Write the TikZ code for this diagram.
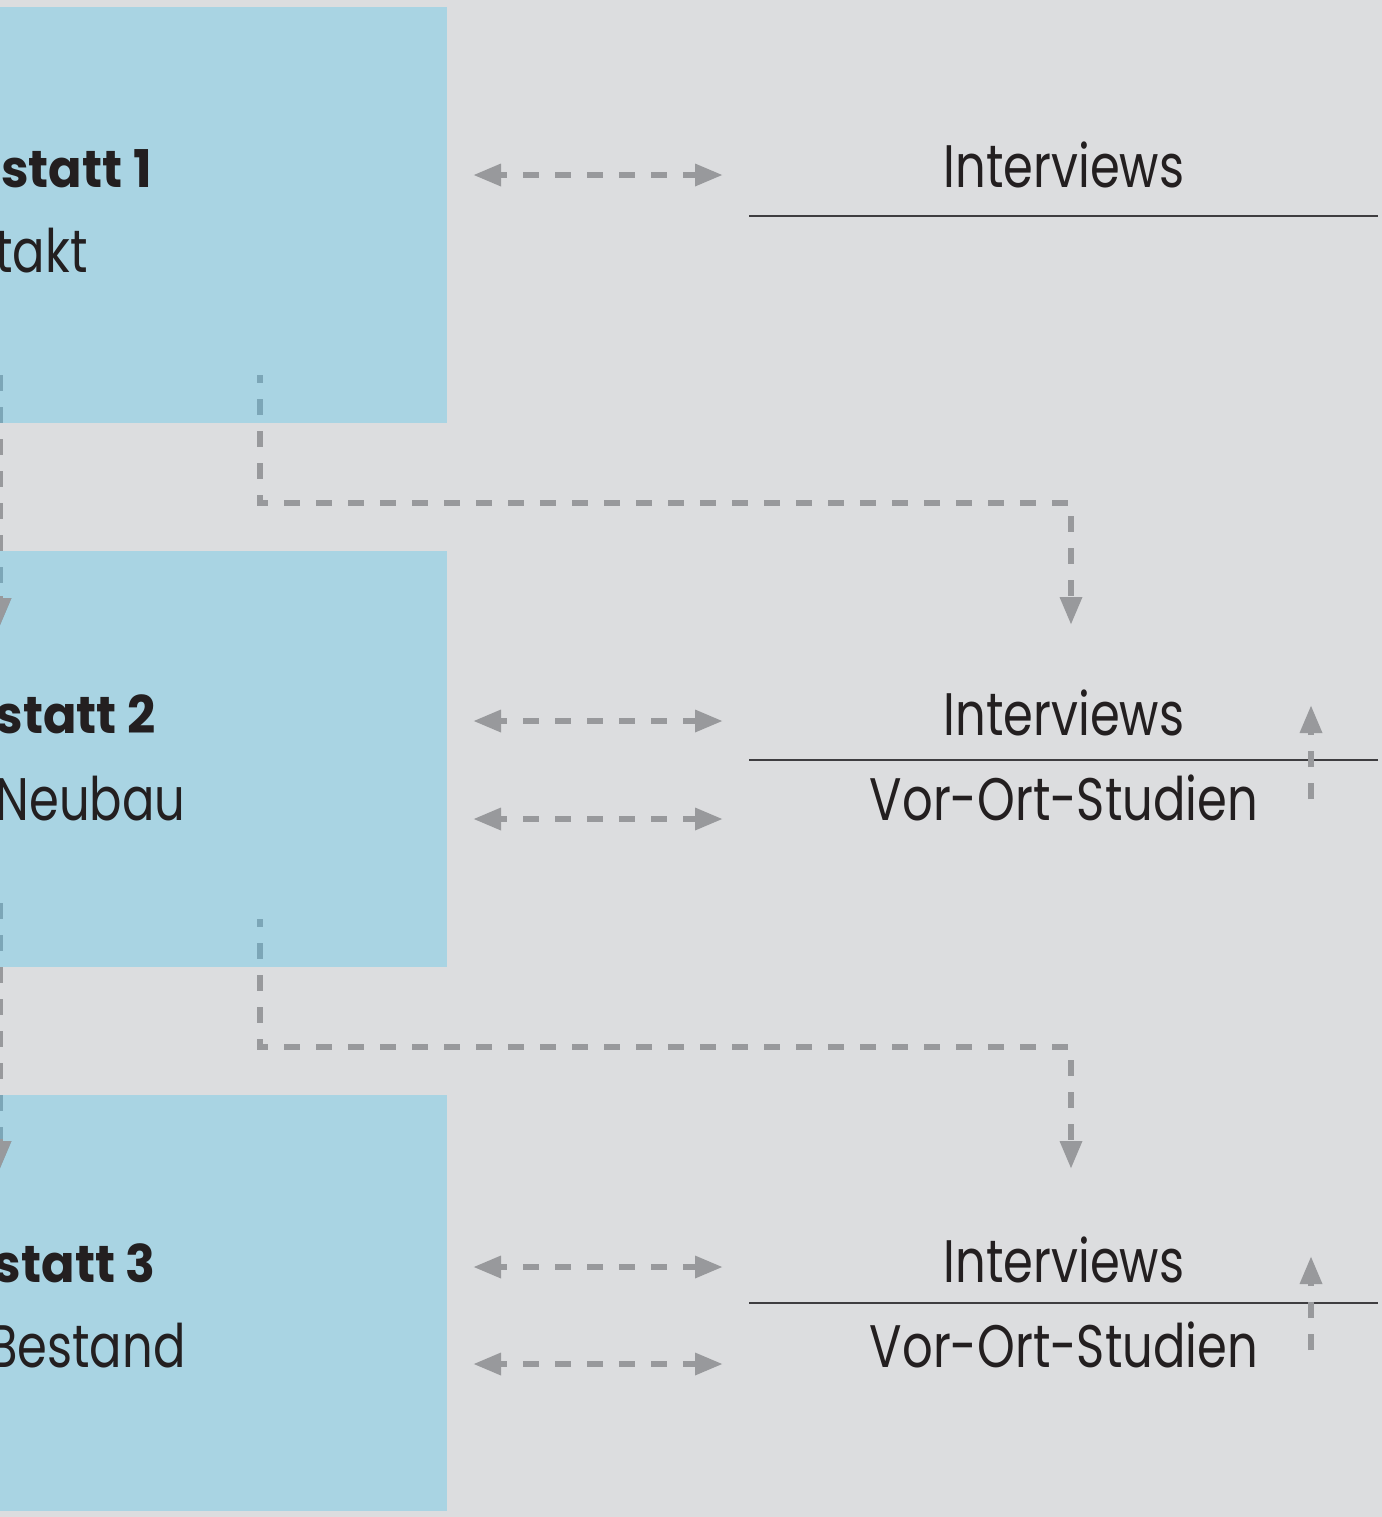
\documentclass[tikz,border=0pt]{standalone}
\usepackage{fontspec}
\usetikzlibrary{arrows.meta}
\newfontfamily\regf{Poppins}[FakeStretch=0.80]
\IfFontExistsTF{Poppins Bold}{\newfontfamily\boldf{Poppins Bold}[FakeStretch=0.95]}{\newfontfamily\boldf{Poppins}[FakeBold=1.5]}
\definecolor{bgc}{RGB}{220,221,223}
\definecolor{boxraw}{RGB}{68,194,238}
\definecolor{arrc}{RGB}{152,153,156}
\definecolor{txtc}{RGB}{35,31,32}
\definecolor{rulec}{RGB}{62,61,64}
\begin{document}
\begin{tikzpicture}[x=0.5pt,y=-0.5pt,
  conn/.style={draw=arrc, line width=3.1pt, dash pattern=on 8pt off 8pt, dash phase=4pt},
  connz/.style={draw=arrc, line width=3.1pt, dash pattern=on 8pt off 8pt, dash phase=0pt},
  tipend/.style={-{Triangle[length=14pt,width=10.5pt]}},
  tipboth/.style={{Triangle[length=14pt,width=10.5pt]}-{Triangle[length=14pt,width=10.5pt]}},
  box/.style={fill=boxraw, fill opacity=0.33, inner sep=0pt, outer sep=0pt, minimum width=223.5pt, minimum height=208pt, anchor=north west},
  boldt/.style={font=\boldf\fontsize{26pt}{30pt}\selectfont, text=txtc, inner sep=0pt, anchor=base east},
  regt/.style={font=\regf\fontsize{30pt}{34pt}\selectfont, text=txtc, inner sep=0pt, anchor=base east},
  lab/.style={font=\regf\fontsize{30pt}{34pt}\selectfont, text=txtc, inner sep=0pt, anchor=base},
  rulel/.style={draw=rulec, line width=1pt}
]
\useasboundingbox (0,0) rectangle (1382,1517);
\clip (0,0) rectangle (1382,1517);
\fill[bgc] (0,0) rectangle (1382,1517);

% coordinates of connectors
\coordinate (v1s) at (0,375);   \coordinate (v1e) at (0,626);   \coordinate (v1t) at (0,596);
\coordinate (v2s) at (0,903);   \coordinate (v2e) at (0,1169);  \coordinate (v2t) at (0,1139);
\coordinate (p1s) at (260,375); \coordinate (p1c) at (260,503); \coordinate (p1d) at (1071,503); \coordinate (p1e) at (1071,625);
\coordinate (p2s) at (260,919); \coordinate (p2c) at (260,1047); \coordinate (p2d) at (1071,1047); \coordinate (p2e) at (1071,1169);

% connectors lying under the boxes
\draw[connz, tipend] (v1s) -- (v1e);
\draw[connz, tipend] (v2s) -- (v2e);
\draw[conn, tipend] (p1s) -- (p1c) -- (p1d) -- (p1e);
\draw[conn, tipend] (p2s) -- (p2c) -- (p2d) -- (p2e);

% boxes
\node[box] (b1) at (0,7) {};
\node[box] (b2) at (0,551) {};
\node[box] (b3) at (0,1095) {};

% arrow tips over the boxes
\draw[draw=arrc, line width=3.1pt, tipend] (v1t) -- (v1e);
\draw[draw=arrc, line width=3.1pt, tipend] (v2t) -- (v2e);

% box texts
\node[boldt] (t1) at (152,187) {statt 1};
\node[regt]  (s1) at (88,272) {takt};
\node[boldt] (t2) at (156,733) {statt 2};
\node[regt]  (s2) at (186,820) {Neubau};
\node[boldt] (t3) at (156,1282) {statt 3};
\node[regt]  (s3) at (186,1367) {Bestand};

% right labels
\node[lab] (i1) at (1064,187) {Interviews};
\node[lab] (i2) at (1064,735) {Interviews};
\node[lab] (o2) at (1064,820) {Vor-Ort-Studien};
\node[lab] (i3) at (1064,1282) {Interviews};
\node[lab] (o3) at (1064,1367) {Vor-Ort-Studien};

\draw[rulel] (749,216) -- (1378,216);
\draw[rulel] (749,760) -- (1378,760);
\draw[rulel] (749,1303) -- (1378,1303);

% horizontal double arrows
\coordinate (h1l) at (473,175);  \coordinate (h1r) at (723,175);
\coordinate (h2l) at (473,721);  \coordinate (h2r) at (723,721);
\coordinate (h3l) at (473,819);  \coordinate (h3r) at (723,819);
\coordinate (h4l) at (473,1267); \coordinate (h4r) at (723,1267);
\coordinate (h5l) at (473,1364); \coordinate (h5r) at (723,1364);
\draw[conn, tipboth] (h1l) -- (h1r);
\draw[conn, tipboth] (h2l) -- (h2r);
\draw[conn, tipboth] (h3l) -- (h3r);
\draw[conn, tipboth] (h4l) -- (h4r);
\draw[conn, tipboth] (h5l) -- (h5r);

% upward arrows
\coordinate (u1s) at (1311,799);  \coordinate (u1e) at (1311,705);
\coordinate (u2s) at (1311,1350); \coordinate (u2e) at (1311,1256);
\draw[connz, tipend] (u1s) -- (u1e);
\draw[connz, tipend] (u2s) -- (u2e);
\end{tikzpicture}
\end{document}
